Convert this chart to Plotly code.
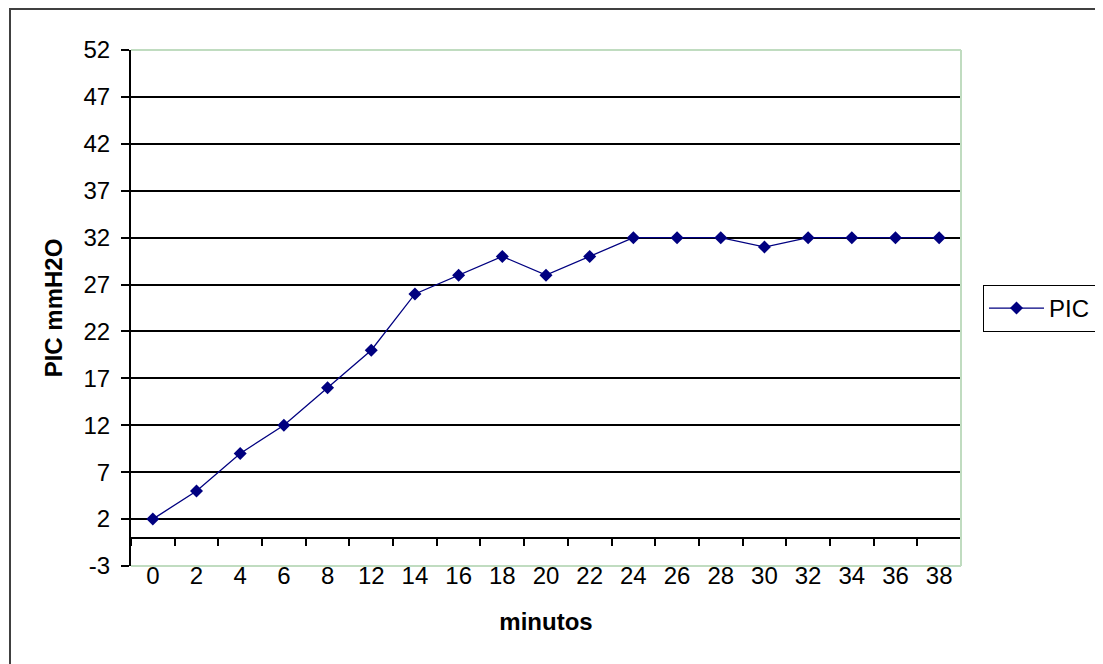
import plotly.graph_objects as go

minutos = ["0", "2", "4", "6", "8", "12", "14", "16", "18", "20", "22", "24",
           "26", "28", "30", "32", "34", "36", "38"]
pic = [2, 5, 9, 12, 16, 20, 26, 28, 30, 28, 30, 32, 32, 32, 31, 32, 32, 32, 32]

y_ticks = [-3, 2, 7, 12, 17, 22, 27, 32, 37, 42, 47, 52]
y_labels = [str(v) for v in y_ticks]

# the page body adds an 8px offset, so positions are compensated
OFF = 8
W, H = 1103, 664
L, R, T, B = 131 - OFF, 961 - OFF, 50 - OFF, 566 - OFF
pw, ph = R - L, B - T

def px(xp):
    return (xp - OFF - L) / pw

def py(yp):
    return (B - (yp - OFF)) / ph

fig = go.Figure()
fig.add_trace(go.Scatter(
    x=minutos, y=pic, mode="lines+markers", name="PIC",
    line=dict(color="#000080", width=1.3),
    marker=dict(symbol="diamond", size=10, color="#000080"),
))
# invisible trace for the crossing category axis at y=0
fig.add_trace(go.Scatter(x=minutos, y=[None] * len(minutos), xaxis="x2",
                         showlegend=False, hoverinfo="skip"))

font = "Arial, Liberation Sans, sans-serif"
green = "#c0dcc0"
y_min, y_max = y_ticks[0], y_ticks[-1]

fig.update_layout(
    width=W, height=H,
    margin=dict(l=L, r=W - R, t=T, b=H - B, pad=0),
    paper_bgcolor="white", plot_bgcolor="white",
    font=dict(family=font, size=24, color="black"),
    showlegend=True,
    legend=dict(x=px(983), y=py(285), xanchor="left", yanchor="top",
                bordercolor="black", borderwidth=1, bgcolor="white",
                font=dict(size=24), itemwidth=55, tracegroupgap=0),
    xaxis=dict(type="category", categoryorder="array", categoryarray=minutos,
               range=[-0.5, len(minutos) - 0.5], showgrid=False, zeroline=False,
               showline=False, ticks="", tickfont=dict(size=24),
               ticklabelstandoff=-7,
               title=dict(text="<b>minutos</b>", font=dict(size=24), standoff=25)),
    xaxis2=dict(type="category", categoryorder="array", categoryarray=minutos,
                overlaying="x", matches="x", anchor="free",
                position=(0 - y_min) / (y_max - y_min),
                showline=True, linecolor="black", linewidth=2,
                ticks="outside", tickson="boundaries", ticklen=7, tickwidth=2,
                tickcolor="black", showticklabels=False, showgrid=False,
                zeroline=False),
    yaxis=dict(range=[y_min, y_max], tickmode="array", tickvals=y_ticks,
               ticktext=y_labels,
               showgrid=True, gridcolor="black", gridwidth=2, zeroline=False,
               showline=True, linecolor="black", linewidth=2,
               ticks="outside", ticklen=8, tickwidth=2, tickcolor="black",
               tickfont=dict(size=24), ticklabelstandoff=6,
               title=dict(text="<b>PIC mmH2O</b>", font=dict(size=24), standoff=14)),
    shapes=[
        dict(type="line", xref="paper", yref="paper", x0=0, x1=1, y0=1, y1=1,
             line=dict(color=green, width=2), layer="above"),
        dict(type="line", xref="paper", yref="paper", x0=1, x1=1, y0=0, y1=1,
             line=dict(color=green, width=2), layer="above"),
        dict(type="line", xref="paper", yref="paper", x0=0, x1=1, y0=0, y1=0,
             line=dict(color=green, width=2), layer="above"),
        dict(type="rect", xref="paper", yref="paper",
             x0=px(10), x1=px(1125), y0=py(685), y1=py(9),
             line=dict(color="#404040", width=2), layer="below"),
    ],
)

fig.write_html("out.html")
